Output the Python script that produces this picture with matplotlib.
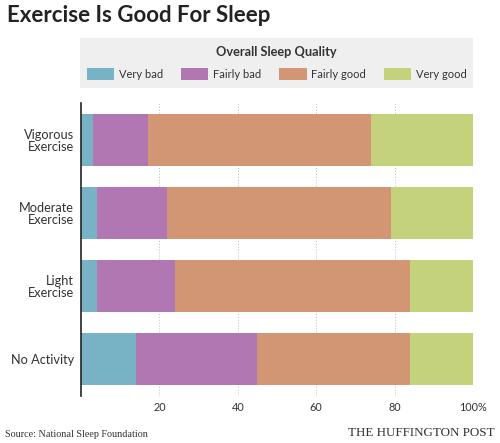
import matplotlib.pyplot as plt
import numpy as np
from matplotlib.patches import Rectangle, Patch

plt.rcParams['font.family'] = ['Lato', 'DejaVu Sans']

# ===== DATA =====
groups = ['Vigorous\nExercise', 'Moderate\nExercise', 'Light\nExercise', 'No Activity']
levels = ['Very bad', 'Fairly bad', 'Fairly good', 'Very good']
very_bad = [3, 4, 4, 14]
fairly_bad = [14, 18, 20, 31]
fairly_good = [57, 57, 60, 39]
very_good = [26, 21, 16, 16]
tick_vals = [20, 40, 60, 80, 100]
tick_labels = ['20', '40', '60', '80', '100%']

colors = ['#77b3c5', '#b077b3', '#d29674', '#c3d27b']

fig = plt.figure(figsize=(5, 4.43), dpi=100)
fig.patch.set_facecolor('white')
ax = fig.add_axes([0.162, 0.106, 0.784, 0.661])

series = [very_bad, fairly_bad, fairly_good, very_good]
y = np.arange(len(groups))
left = np.zeros(len(groups))
for vals, col, lab in zip(series, colors, levels):
    ax.barh(y, vals, left=left, height=0.71, color=col, label=lab, zorder=2)
    left += np.array(vals)

ax.set_xlim(0, 100)
ax.set_ylim(3.5, -0.5)
ax.set_yticks(y)
ax.set_yticklabels(groups, fontsize=9.2, color='#333333', linespacing=1.0)
ax.set_xticks(tick_vals)
ax.set_xticklabels(tick_labels, fontsize=7.8, color='#333333')
ax.tick_params(axis='both', length=0, pad=5)
ax.tick_params(axis='x', pad=4)
ax.xaxis.grid(True, linestyle=(0, (1, 2)), color='#bbbbbb', linewidth=0.7, zorder=0)
for s in ['top', 'right', 'bottom']:
    ax.spines[s].set_visible(False)
ax.spines['left'].set_color('#222222')
ax.spines['left'].set_linewidth(1.2)

# title
fig.text(0.014, 0.965, 'Exercise Is Good For Sleep', fontsize=16, fontweight='bold',
         ha='left', va='center', color='#222222')

# legend panel
fig.patches.append(Rectangle((0.16, 1 - 88 / 443), 0.786, 50 / 443, transform=fig.transFigure,
                             facecolor='#efefef', edgecolor='none', zorder=0))
fig.text(0.553, 1 - 52 / 443, 'Overall Sleep Quality', fontsize=9.2, fontweight='bold',
         ha='center', va='center', color='#333333')
handles = [Patch(facecolor=c, label=l) for c, l in zip(colors, levels)]
fig.legend(handles=handles, loc='center', bbox_to_anchor=(0.553, 1 - 74 / 443), ncol=4,
           frameon=False, fontsize=8, handlelength=2.5, handleheight=1.3,
           columnspacing=1.6, handletextpad=0.4, labelcolor='#333333')

# footer
fig.text(0.01, 0.01, 'Source: National Sleep Foundation', fontsize=7.3, family='Liberation Serif',
         ha='left', va='bottom', color='#333333')
fig.text(0.99, 0.01, 'THE HUFFINGTON POST', fontsize=9.4, family='Liberation Serif',
         ha='right', va='bottom', color='#333333')

plt.savefig('out.png', dpi=100, facecolor='white')
